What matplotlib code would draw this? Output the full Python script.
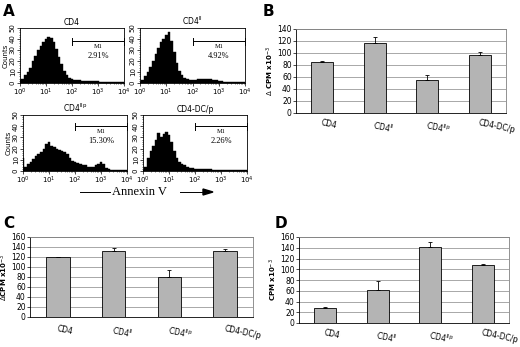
import matplotlib.pyplot as plt
import numpy as np
from matplotlib.ticker import LogLocator, NullFormatter, MultipleLocator

# panel A: flow cytometry histograms (counts at log10 steps of 0.1 from 10^0 to 10^4)
hist_titles = ['CD4', 'CD4$^{\\mathrm{ll}}$', 'CD4$^{\\mathrm{llp}}$', 'CD4-DC/p']
hist_pct = ['2.91%', '4.92%', '15.30%', '2.26%']
hist_cd4 = [3, 4, 7, 10, 14, 20, 25, 30, 34, 37, 40, 42, 41, 37, 31, 24, 17, 11, 7, 5,
            4, 3, 3, 3, 2, 2, 2, 2, 1.5, 1.5, 1.5, 1, 1, 1, 1, 1, 0.8, 0.8, 0.6, 0.5, 0.5]
hist_cd4ll = [1, 3, 6, 10, 15, 20, 26, 32, 37, 40, 44, 46, 38, 28, 18, 11, 7, 5, 4, 3,
              3, 3, 3.5, 4, 4, 4, 3.5, 4, 3, 2.5, 2, 1.5, 1, 1, 1, 0.8, 0.8, 0.6, 0.6, 0.5, 0.5]
hist_cd4llp = [12, 4, 6, 8, 11, 13, 15, 17, 20, 24, 26, 22, 21, 20, 19, 18, 17, 15, 12, 9,
               8, 7, 6, 5, 5, 4, 4, 4, 5, 6, 8, 6, 3, 2, 1, 1, 0.8, 0.6, 0.5, 0.5, 0.5]
hist_dcp = [1, 4, 12, 18, 22, 28, 34, 30, 33, 35, 32, 26, 18, 12, 8, 6, 5, 4, 3, 2.5,
            2, 2, 2, 1.5, 1.5, 1.5, 1.5, 1.2, 1.2, 1, 1, 1, 1, 1, 1, 1, 1, 1, 1, 1, 1]
hist_data = [hist_cd4, hist_cd4ll, hist_cd4llp, hist_dcp]
gate_level = [38, 38, 40, 40]

# bar panels
categories = ['CD4', 'CD4$^{\\mathrm{ll}}$', 'CD4$^{\\mathrm{llp}}$', 'CD4-DC/p']
b_vals = [85, 116, 55, 96]
b_err = [1, 11, 8, 6]
c_vals = [120, 133, 80, 133]
c_err = [0.5, 5, 14, 4]
d_vals = [27, 62, 141, 107]
d_err = [3, 17, 9, 2]

fig = plt.figure(figsize=(5.2, 3.47), dpi=100)
W, H = 520, 347


def box(x0, y0, x1, y1):
    return [x0 / W, 1 - y1 / H, (x1 - x0) / W, (y1 - y0) / H]


hist_boxes = [box(20, 28, 124, 83), box(140, 28, 245, 83),
              box(23, 115, 127, 171), box(143, 115, 247, 171)]
bin_x = 10 ** np.arange(0, 4.01, 0.1)

for i, rect in enumerate(hist_boxes):
    ax = fig.add_axes(rect)
    ax.fill_between(bin_x, hist_data[i], step='mid', color='black', lw=0.3)
    ax.set_xscale('log')
    ax.set_xlim(1, 1e4)
    ax.set_ylim(0, 50)
    ax.yaxis.set_major_locator(MultipleLocator(10))
    ax.yaxis.set_minor_locator(MultipleLocator(2))
    ax.xaxis.set_major_locator(LogLocator(base=10, numticks=10))
    ax.xaxis.set_minor_locator(LogLocator(base=10, subs=np.arange(2, 10), numticks=10))
    ax.xaxis.set_minor_formatter(NullFormatter())
    ax.tick_params(labelsize=5, length=2, width=0.5, pad=1)
    ax.tick_params(which='minor', length=1, width=0.4)
    for lab in ax.get_yticklabels():
        lab.set_rotation(90)
        lab.set_va('center')
    for s in ax.spines.values():
        s.set_linewidth(0.6)
    ax.set_title(hist_titles[i], fontsize=5.5, pad=2)
    if i % 2 == 0:
        ax.set_ylabel('Counts', fontsize=5, labelpad=1)
    g = gate_level[i]
    ax.plot([100, 1e4], [g, g], color='black', lw=0.7)
    ax.plot([100, 100], [g - 3, g + 3], color='black', lw=0.7)
    ax.plot([1e4, 1e4], [g - 3, g + 3], color='black', lw=0.7, clip_on=False)
    ax.text(1000, g - 5, 'M1', fontsize=4.5, family='Liberation Serif', ha='center', va='center')
    ax.text(1000, g - 13, hist_pct[i], fontsize=6, family='Liberation Serif', ha='center', va='center')

fig.text(3 / W, 1 - 12 / H, 'A', fontsize=11, fontweight='bold', va='center')
fig.text(263 / W, 1 - 12 / H, 'B', fontsize=11, fontweight='bold', va='center')
fig.text(3 / W, 1 - 224 / H, 'C', fontsize=11, fontweight='bold', va='center')
fig.text(275 / W, 1 - 224 / H, 'D', fontsize=11, fontweight='bold', va='center')

# Annexin V axis label with arrow
fig.add_artist(plt.Line2D([80 / W, 110 / W], [1 - 192 / H] * 2, color='black', lw=0.7))
fig.text(139 / W, 1 - 192 / H, 'Annexin V', fontsize=9, family='Liberation Serif',
         ha='center', va='center')
fig.add_artist(plt.Line2D([180 / W, 205 / W], [1 - 192 / H] * 2, color='black', lw=0.7))
fig.add_artist(plt.Polygon([[203 / W, 1 - 189 / H], [213 / W, 1 - 192 / H], [203 / W, 1 - 195 / H]],
                           closed=True, color='black', transform=fig.transFigure))


def bar_panel(rect, vals, errs, ymax, ylabel, label_pad):
    ax = fig.add_axes(rect)
    x = np.arange(len(vals))
    ax.bar(x, vals, width=0.42, color='#b4b4b4', edgecolor='black', lw=0.6, zorder=3)
    ax.errorbar(x, vals, yerr=[[0] * len(errs), errs], fmt='none', ecolor='black',
                elinewidth=0.6, capsize=1.5, capthick=0.6, zorder=4)
    ax.set_xlim(-0.5, len(vals) - 0.5)
    ax.set_ylim(0, ymax)
    ax.yaxis.set_major_locator(MultipleLocator(20))
    ax.grid(axis='y', color='#9a9a9a', lw=0.6, zorder=0)
    for s in ax.spines.values():
        s.set_color('#808080')
        s.set_linewidth(0.6)
    ax.spines['left'].set_color('black')
    ax.spines['bottom'].set_color('black')
    ax.tick_params(axis='y', labelsize=5.5, length=2, width=0.5, pad=1)
    ax.set_xticks(x)
    ax.set_xticklabels(categories, fontsize=5.5, rotation=-12, ha='left',
                       rotation_mode='anchor')
    ax.tick_params(axis='x', length=0, pad=label_pad)
    ax.set_ylabel(ylabel, fontsize=5, fontweight='bold', labelpad=1)
    return ax


bar_panel(box(296, 29, 506, 113), b_vals, b_err, 140, '$\\Delta$ CPM x10$^{-3}$', 4)
bar_panel(box(30, 237, 253, 317), c_vals, c_err, 160, '$\\Delta$CPM x10$^{-3}$', 5)
bar_panel(box(299, 237, 509, 323), d_vals, d_err, 160, 'CPM x10$^{-3}$', 4)

fig.savefig('out.png', dpi=100)
